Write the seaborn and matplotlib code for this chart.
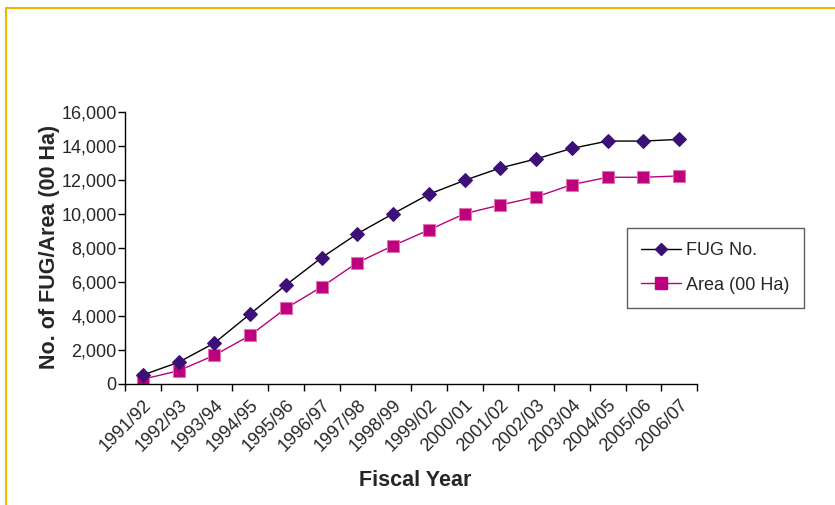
import numpy as np
import pandas as pd
import matplotlib
matplotlib.use("Agg")
import matplotlib.pyplot as plt
import seaborn as sns
from matplotlib.lines import Line2D
from matplotlib.ticker import FuncFormatter, FixedLocator

years = ["1991/92", "1992/93", "1993/94", "1994/95", "1995/96", "1996/97",
         "1997/98", "1998/99", "1999/02", "2000/01", "2001/02", "2002/03",
         "2003/04", "2004/05", "2005/06", "2006/07"]
fug_no = [530, 1280, 2410, 4120, 5820, 7430, 8840, 10020,
          11160, 11980, 12710, 13240, 13860, 14290, 14290, 14390]
area_ha = [280, 780, 1690, 2860, 4450, 5710, 7140, 8140,
           9060, 10020, 10530, 11000, 11730, 12160, 12160, 12240]

fug_color = "#3d1078"
area_color = "#bd007c"

sns.set_style("white")
plt.rcParams["font.family"] = ["Liberation Sans", "DejaVu Sans"]

df = pd.DataFrame({"pos": np.arange(len(years)), "year": years,
                   "fug": fug_no, "area": area_ha})

fig = plt.figure(figsize=(8.35, 5.05), dpi=100)
ax = fig.add_axes([125 / 835, 1 - 384 / 505, (697 - 125) / 835, (384 - 112) / 505])

sns.lineplot(data=df, x="pos", y="fug", ax=ax, color="black", lw=1,
             marker="D", markersize=7, markerfacecolor=fug_color,
             markeredgecolor=fug_color, zorder=3)
sns.lineplot(data=df, x="pos", y="area", ax=ax, color=area_color, lw=1,
             marker="s", markersize=9, markerfacecolor=area_color,
             markeredgecolor="#e070b0", markeredgewidth=0.8, zorder=2)

ax.set_xlim(-0.5, len(years) - 0.5)
ax.set_ylim(0, 16000)
ax.set_yticks(np.arange(0, 16001, 2000))
ax.yaxis.set_major_formatter(FuncFormatter(lambda v, p: f"{int(v):,}"))

ax.set_xticks(df["pos"])
ax.set_xticklabels(years, rotation=45, ha="right", rotation_mode="anchor")
ax.xaxis.set_minor_locator(FixedLocator(np.arange(-0.5, len(years), 1.0)))
ax.tick_params(axis="x", which="major", length=0, pad=9, labelsize=13)
ax.tick_params(axis="x", which="minor", length=5, width=1, color="black", direction="out", bottom=True)
ax.tick_params(axis="y", length=5, width=1, color="black", direction="out", left=True, labelsize=13, pad=1)

for s in ["top", "right"]:
    ax.spines[s].set_visible(False)
for s in ["left", "bottom"]:
    ax.spines[s].set_color("black")
    ax.spines[s].set_linewidth(1)

ax.set_xlabel("")
ax.set_ylabel("")
fig.text(415 / 835, 1 - 480 / 505, "Fiscal Year", ha="center", va="center",
         fontsize=15.5, fontweight="heavy")
fig.text(50 / 835, 1 - 247 / 505, "No. of FUG/Area (00 Ha)", ha="center", va="center",
         rotation=90, fontsize=15.5, fontweight="heavy")

handles = [
    Line2D([], [], color="black", lw=1, marker="D", markersize=6,
           markerfacecolor=fug_color, markeredgecolor=fug_color),
    Line2D([], [], color=area_color, lw=1, marker="s", markersize=8,
           markerfacecolor=area_color, markeredgecolor=area_color),
]
leg = fig.legend(handles, ["FUG No.", "Area (00 Ha)"], loc="upper left",
                 bbox_to_anchor=(627 / 835, 1 - 228 / 505), frameon=True,
                 fancybox=False, edgecolor="#333333", fontsize=13,
                 handlelength=2.2, borderpad=0.8, labelspacing=0.95,
                 handletextpad=0.25, borderaxespad=0)
leg.get_frame().set_linewidth(1)

# outer frame
fig.add_artist(Line2D([6 / 835, 1.0], [1 - 8 / 505, 1 - 8 / 505],
                      transform=fig.transFigure, color="#f2b800", lw=1.5))
fig.add_artist(Line2D([6 / 835, 6 / 835], [0, 1 - 8 / 505],
                      transform=fig.transFigure, color="#f2b800", lw=1.5))

fig.savefig("out.png", dpi=100)
